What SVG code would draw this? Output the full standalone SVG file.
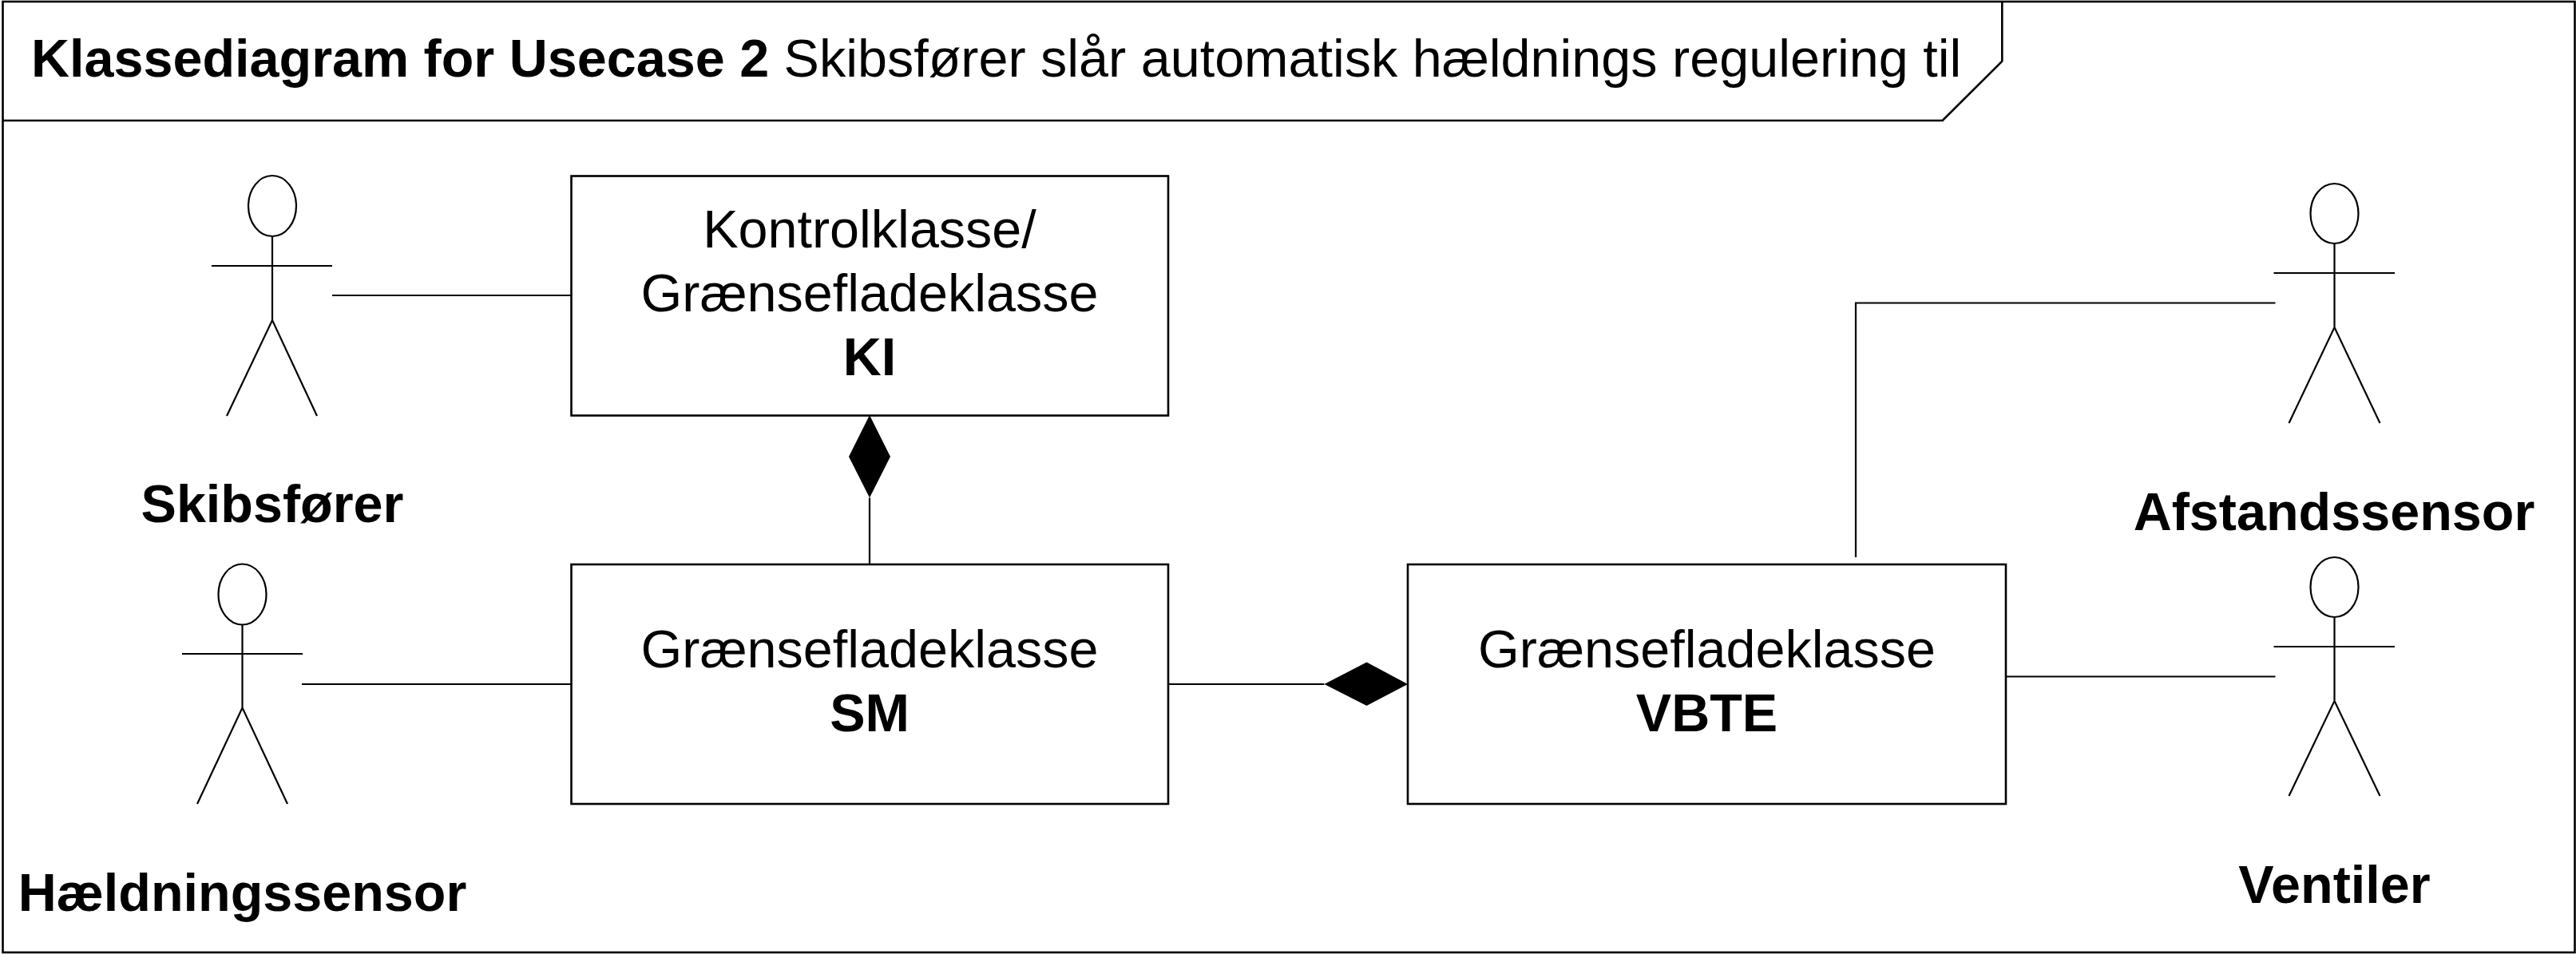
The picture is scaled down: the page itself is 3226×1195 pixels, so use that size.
<svg xmlns="http://www.w3.org/2000/svg" width="3226" height="1195" viewBox="0 0 3226 1195">
<defs><style>
.l{fill:none;stroke:#000;stroke-width:2.2}
.f{fill:none;stroke:#000;stroke-width:2.6}
.h{fill:#fff;stroke:#000;stroke-width:2.2}
.box{fill:#fff;stroke:#000;stroke-width:2.6}
.d{fill:#000;stroke:none}
text{font-family:"Liberation Sans",Arial,sans-serif;font-size:66.5px;fill:#000}
.b{font-weight:bold}
.m{text-anchor:middle}
</style></defs>
<rect width="3226" height="1195" fill="#fff"/>
<g id="frame">
<rect class="f" x="3.5" y="2" width="3221" height="1191"/>
<path class="f" d="M3.5 151H2432.7L2507.3 76.700V2"/>
<text x="39" y="96"><tspan class="b">Klassediagram for Usecase 2</tspan> Skibsfører slår automatisk hældnings regulering til</text>
</g>
<g id="connectors">
<path class="l" d="M416 370H715.5"/>
<path class="l" d="M1089 623.5V707"/>
<path class="d" d="M1089 520L1115 572L1089 623.5L1063 572Z"/>
<path class="l" d="M378 857H715.5"/>
<path class="l" d="M1463 857H1658.4"/>
<path class="d" d="M1658.4 857L1711.500 829.600L1763 857L1711.500 884Z"/>
<path class="l" d="M2324 698V379.5H2849.500"/>
<path class="l" d="M2512 847.5H2849.500"/>
</g>
<g id="actor-skibsforer">
<ellipse class="h" cx="341" cy="258" rx="30" ry="38"/>
<path class="l" d="M341 296V401M265 333H416M284 521L341 401L397 521"/>
<text class="b m" x="341" y="654">Skibsfører</text>
</g>
<g id="actor-haeldningssensor">
<ellipse class="h" cx="303.5" cy="744.5" rx="30" ry="38"/>
<path class="l" d="M303.5 782.500V886.500M228 819H379M247 1007L303.5 886.500L360 1007"/>
<text class="b m" x="303.500" y="1141">Hældningssensor</text>
</g>
<g id="actor-afstandssensor">
<ellipse class="h" cx="2923.500" cy="267.500" rx="30" ry="37.500"/>
<path class="l" d="M2923.500 305V410M2847.500 342H2999M2866.500 530L2923.500 410L2980.500 530"/>
<text class="b m" x="2923" y="663.500">Afstandssensor</text>
</g>
<g id="actor-ventiler">
<ellipse class="h" cx="2923.500" cy="735.500" rx="30" ry="37.500"/>
<path class="l" d="M2923.500 773V878M2847.500 810H2999M2866.500 997L2923.500 878L2980.500 997"/>
<text class="b m" x="2923.500" y="1131">Ventiler</text>
</g>
<g id="class-ki">
<rect class="box" x="715.500" y="220.500" width="747.500" height="300"/>
<text class="m" x="1089" y="310">Kontrolklasse/</text>
<text class="m" x="1089" y="390">Grænsefladeklasse</text>
<text class="b m" x="1089" y="470">KI</text>
</g>
<g id="class-sm">
<rect class="box" x="715.500" y="707" width="747.500" height="300"/>
<text class="m" x="1089" y="836">Grænsefladeklasse</text>
<text class="b m" x="1089" y="916">SM</text>
</g>
<g id="class-vbte">
<rect class="box" x="1763" y="707" width="749" height="300"/>
<text class="m" x="2137.500" y="836">Grænsefladeklasse</text>
<text class="b m" x="2137.500" y="916">VBTE</text>
</g>
</svg>
